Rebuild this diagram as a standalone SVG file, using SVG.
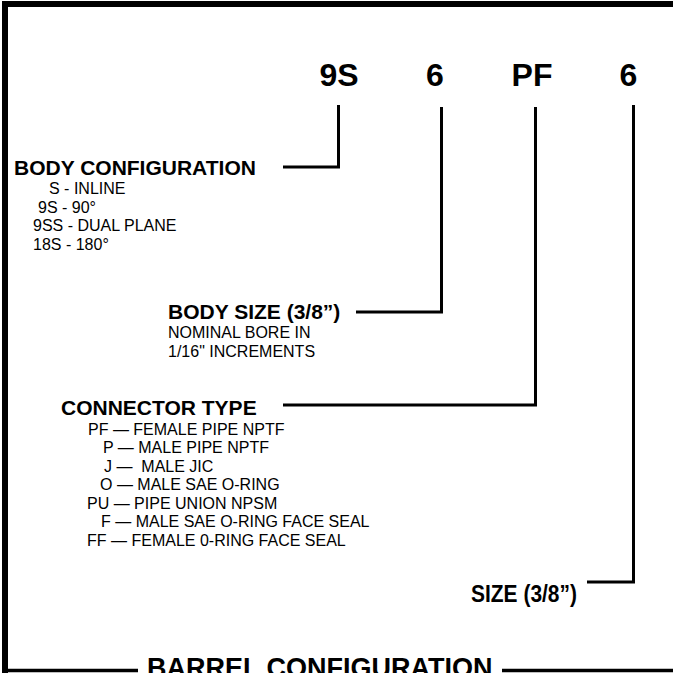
<svg xmlns="http://www.w3.org/2000/svg" width="673" height="673" viewBox="0 0 673 673">
<style>
.code{font-family:"Liberation Sans",Arial,sans-serif;font-weight:bold;font-size:32px;fill:#000;text-anchor:middle}
.hd{font-family:"Liberation Sans",Arial,sans-serif;font-weight:bold;font-size:21px;fill:#000}
.it{font-family:"Liberation Sans",Arial,sans-serif;font-size:16px;fill:#000}
.ttl{font-family:"Liberation Sans",Arial,sans-serif;font-weight:bold;font-size:27px;fill:#000}
.ln{stroke:#000;stroke-width:3;fill:none}
.frame{stroke:#000;stroke-width:6;fill:none}
</style>
<rect width="673" height="673" fill="#fff"/>
<g id="frame">
<line class="frame" x1="2" y1="4" x2="673" y2="4"/>
<line class="frame" x1="5" y1="1" x2="5" y2="673"/>
<line class="ln" x1="5" y1="670.5" x2="138" y2="670.5" style="stroke-width:3.5"/>
<line class="ln" x1="502" y1="670.5" x2="673" y2="670.5" style="stroke-width:3.5"/>
<text class="ttl" x="147" y="677">BARREL CONFIGURATION</text>
</g>
<g id="codes">
<text class="code" x="339" y="86">9S</text>
<text class="code" x="435" y="86">6</text>
<text class="code" x="532" y="86">PF</text>
<text class="code" x="628.5" y="86">6</text>
</g>
<g id="connectors">
<polyline class="ln" points="338.5,105 338.5,167 283,167"/>
<polyline class="ln" points="441.5,107 441.5,312 356,312"/>
<polyline class="ln" points="535.5,107 535.5,405 283,405"/>
<polyline class="ln" points="633.5,105 633.5,582 587,582"/>
</g>
<g id="body-configuration">
<text class="hd" x="14" y="175">BODY CONFIGURATION</text>
<text class="it" x="49" y="194">S - INLINE</text>
<text class="it" x="38" y="212.5">9S - 90°</text>
<text class="it" x="33" y="231">9SS - DUAL PLANE</text>
<text class="it" x="33" y="249.5">18S - 180°</text>
</g>
<g id="body-size">
<text class="hd" x="168" y="319">BODY SIZE (3/8”)</text>
<text class="it" x="168" y="338">NOMINAL BORE IN</text>
<text class="it" x="168" y="357">1/16" INCREMENTS</text>
</g>
<g id="connector-type">
<text class="hd" x="61" y="415">CONNECTOR TYPE</text>
<text class="it" x="88" y="434.5">PF — FEMALE PIPE NPTF</text>
<text class="it" x="103" y="453">P — MALE PIPE NPTF</text>
<text class="it" x="104" y="471.5" xml:space="preserve">J —  MALE JIC</text>
<text class="it" x="100" y="490">O — MALE SAE O-RING</text>
<text class="it" x="87" y="508.5">PU — PIPE UNION NPSM</text>
<text class="it" x="101" y="527">F — MALE SAE O-RING FACE SEAL</text>
<text class="it" x="87" y="545.5">FF — FEMALE 0-RING FACE SEAL</text>
</g>
<g id="size">
<text class="hd" x="471" y="601.5" style="font-size:23px" textLength="106" lengthAdjust="spacingAndGlyphs">SIZE (3/8”)</text>
</g>
</svg>
